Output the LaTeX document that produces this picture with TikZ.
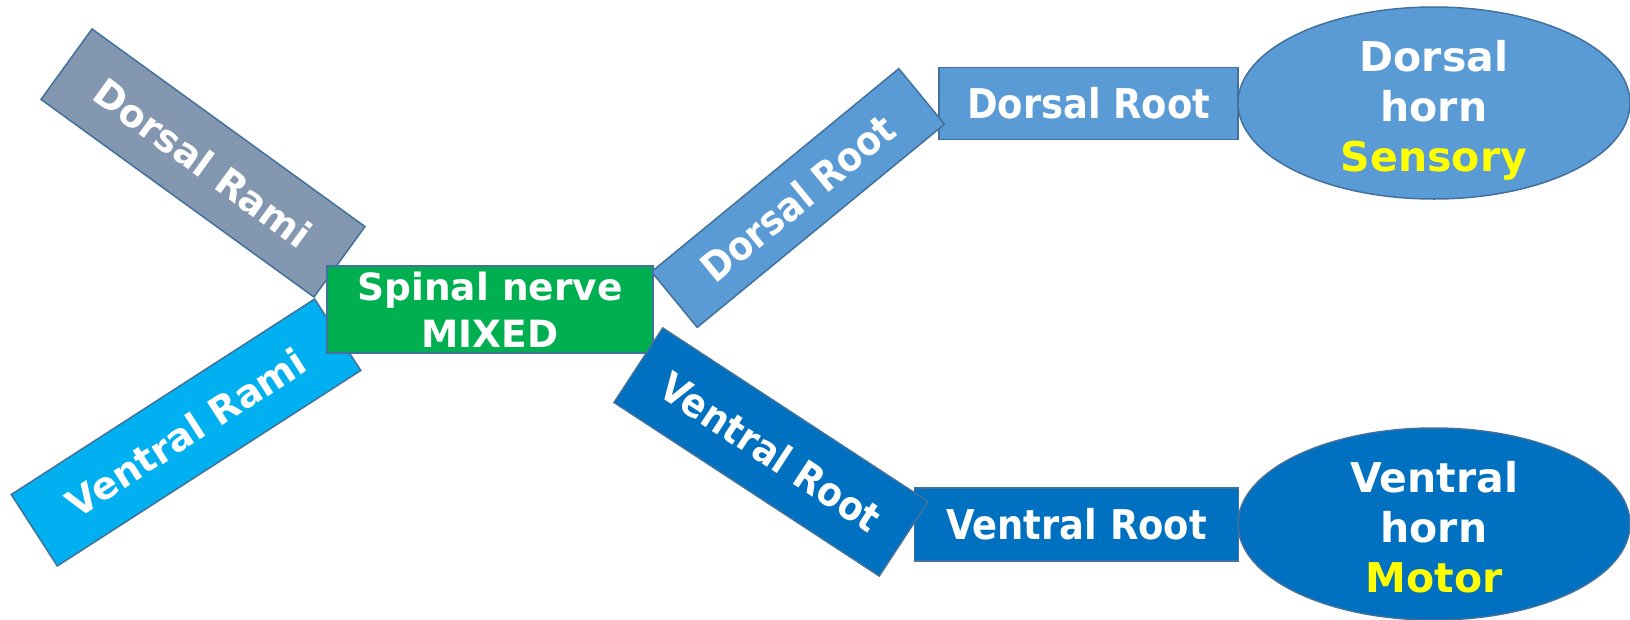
\documentclass[tikz,border=0pt]{standalone}
\usepackage{fontspec}
\usetikzlibrary{shapes.geometric}
\newfontfamily\verd{DejaVu Sans}
\newfontfamily\taho{DejaVu Sans Condensed}
\definecolor{edge}{HTML}{41719C}
\definecolor{ramigray}{HTML}{8497B0}
\definecolor{ramicyan}{HTML}{00B0F0}
\definecolor{nervegreen}{HTML}{00B050}
\definecolor{dblue}{HTML}{5B9BD5}
\definecolor{vblue}{HTML}{0070C0}
\definecolor{hiyellow}{HTML}{FFFF00}
\begin{document}
\begin{tikzpicture}[x=1pt,y=-1pt,
  shp/.style={draw=edge, line width=1.5pt, inner sep=0pt, text=white},
  vtxt/.style={font=\verd\bfseries\fontsize{38}{46}\selectfont},
  ttxt/.style={font=\taho\bfseries\fontsize{41}{50}\selectfont},
  htxt/.style={text=white, align=center, inner sep=0pt, font=\verd\bfseries\fontsize{41}{50}\selectfont},
]
\useasboundingbox (0,0) rectangle (1630,619);
% rami
\node[shp, fill=ramigray, rotate=-35.9, minimum width=337pt, minimum height=87pt, vtxt] (drami) at (203,163) {Dorsal Rami};
\node[shp, fill=ramicyan, rotate=32.8, minimum width=361pt, minimum height=85pt, vtxt] (vrami) at (186,432.5) {Ventral Rami};
% spinal nerve
\node[shp, fill=nervegreen, minimum width=326pt, minimum height=87pt, align=center, font=\verd\bfseries\fontsize{37.5}{46.5}\selectfont] (spinal) at (490,309.5) {Spinal nerve\\MIXED};
% horizontal roots
\node[shp, fill=dblue, minimum width=299pt, minimum height=72pt, ttxt] (droot) at (1088.7,103.3) {Dorsal Root};
\node[shp, fill=vblue, minimum width=324pt, minimum height=73pt, ttxt] (vroot) at (1076.5,524.7) {Ventral Root};
% horns
\node[shp, fill=dblue, ellipse, minimum width=392pt, minimum height=192pt] (dhorn) at (1434,103) {};
\node[htxt] (dhorntext) at (1434,110) {Dorsal\\horn\\\textcolor{hiyellow}{Sensory}};
\node[shp, fill=vblue, ellipse, minimum width=392pt, minimum height=192pt] (vhorn) at (1434,524) {};
\node[htxt] (vhorntext) at (1434,527) {Ventral\\horn\\\textcolor{hiyellow}{Motor}};
% rotated roots
\node[shp, fill=dblue, rotate=39.4, minimum width=320pt, minimum height=72pt, font=\taho\bfseries\fontsize{40}{48}\selectfont] (drootr) at (798,198) {Dorsal Root};
\node[shp, fill=vblue, rotate=-33.2, minimum width=317pt, minimum height=89pt, font=\taho\bfseries\fontsize{40}{48}\selectfont] (vrootr) at (771,452) {Ventral Root};
\end{tikzpicture}
\end{document}
